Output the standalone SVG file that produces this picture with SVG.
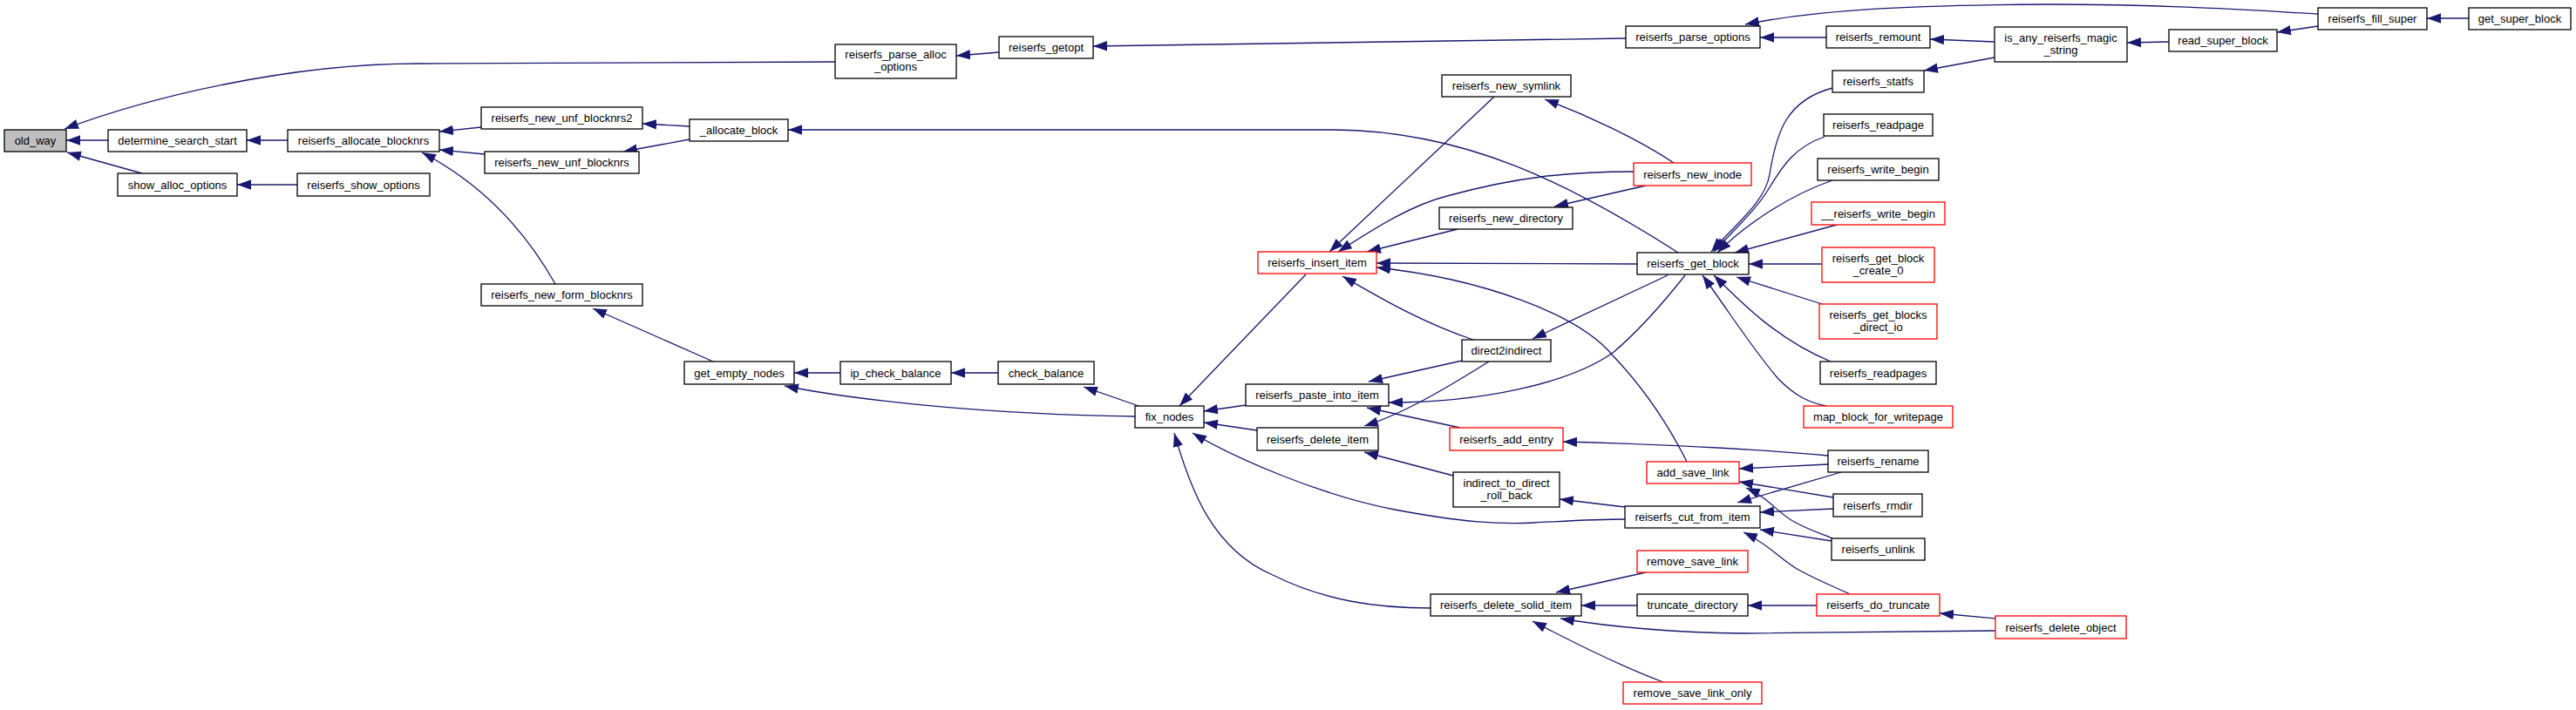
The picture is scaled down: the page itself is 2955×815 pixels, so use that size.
<svg xmlns="http://www.w3.org/2000/svg" width="2955" height="815" viewBox="0 0 2955 815">
<style>
.n rect{fill:#fff;stroke:#000;stroke-width:1.3}
.n.r rect{stroke:#f00}
.n.g rect{fill:#bfbfbf}
.n text{font-family:"Liberation Sans",Arial,sans-serif;font-size:13px;text-anchor:middle;fill:#000}
.e path{fill:none;stroke:#191970;stroke-width:1.3;marker-start:url(#a)}
</style>
<defs>
<marker id="a" markerUnits="userSpaceOnUse" markerWidth="16" markerHeight="12" refX="14" refY="5" orient="auto-start-reverse" viewBox="0 0 14 10"><path d="M0,0 L14,5 L0,10 z" fill="#191970"/></marker>
</defs>
<rect width="2955" height="815" fill="#fff"/>
<g id="edges" class="e">
<path d="M74,148 C170,112 330,73 480,73 L958,71"/>
<path d="M76,161 L124,161"/>
<path d="M77,175 L163,199"/>
<path d="M283,161 L330,161"/>
<path d="M272,212 L341,212"/>
<path d="M504,151 L552,146"/>
<path d="M504,172 L556,177"/>
<path d="M484,175 Q580,225 637,326"/>
<path d="M737,142 L791,145"/>
<path d="M715,174 L791,160"/>
<path d="M904,149 L1530,149 C1680,150 1800,210 1925,290"/>
<path d="M1097,64 L1146,60"/>
<path d="M1254,53 L1865,44"/>
<path d="M2019,43 L2095,43"/>
<path d="M2002,28 C2080,12 2180,6 2350,5 C2500,5 2600,13 2659,16"/>
<path d="M2214,45 L2288,48"/>
<path d="M2207,81 L2288,66"/>
<path d="M2440,49 L2488,48"/>
<path d="M2612,37 L2659,30"/>
<path d="M2784,21 L2832,21"/>
<path d="M680,354 L818,415"/>
<path d="M911,428 L964,428"/>
<path d="M900,443 C960,455 1100,475 1302,478"/>
<path d="M1091,428 L1145,428"/>
<path d="M1243,444 L1306,466"/>
<path d="M1353,466 L1498,315"/>
<path d="M1381,472 L1429,465"/>
<path d="M1381,485 L1442,494"/>
<path d="M1368,497 C1420,528 1520,570 1600,585 C1680,600 1720,602 1760,600 C1800,598 1830,596 1864,596"/>
<path d="M1347,497 C1365,560 1390,630 1460,660 C1520,690 1580,698 1641,698"/>
<path d="M1525,289 L1714,111"/>
<path d="M1535,289 C1580,260 1620,235 1660,225 C1740,203 1800,197 1874,197"/>
<path d="M1568,289 L1672,263"/>
<path d="M1579,302 L1878,303"/>
<path d="M1579,307 C1700,320 1810,360 1850,408 C1890,450 1915,490 1935,530"/>
<path d="M1540,317 C1580,340 1630,370 1690,390"/>
<path d="M1772,114 C1820,132 1880,160 1920,187"/>
<path d="M1783,237 L1888,213"/>
<path d="M1758,389 L1913,316"/>
<path d="M1593,462 C1700,462 1800,440 1850,405 C1880,380 1910,345 1933,316"/>
<path d="M1570,438 L1677,414"/>
<path d="M1568,468 L1675,491"/>
<path d="M1565,489 C1610,475 1660,445 1708,415"/>
<path d="M1565,519 L1667,546"/>
<path d="M1793,507 C1900,510 2000,514 2097,523"/>
<path d="M1789,573 L1864,582"/>
<path d="M1995,538 L2097,533"/>
<path d="M1995,553 L2103,571"/>
<path d="M2003,560 C2030,572 2040,590 2060,600 C2075,608 2090,613 2102,618"/>
<path d="M1993,577 L2112,542"/>
<path d="M2019,588 L2103,584"/>
<path d="M2019,608 L2101,621"/>
<path d="M2000,611 C2030,625 2045,645 2065,655 C2085,666 2105,674 2122,682"/>
<path d="M2005,695 L2084,695"/>
<path d="M2225,704 L2289,710"/>
<path d="M1790,710 C1850,720 1920,726 2000,727 L2289,724"/>
<path d="M1785,680 L1888,657"/>
<path d="M1814,695 L1878,695"/>
<path d="M1758,713 C1800,735 1860,765 1908,783"/>
<path d="M1963,289 C1990,258 2025,232 2030,200 C2038,150 2050,115 2102,101"/>
<path d="M1966,289 C1995,258 2015,240 2030,215 C2045,190 2060,168 2093,157"/>
<path d="M1970,290 C2000,260 2050,225 2102,207"/>
<path d="M1990,290 L2107,258"/>
<path d="M2006,303 L2090,303"/>
<path d="M1992,318 L2090,349"/>
<path d="M1966,316 C2000,350 2040,390 2100,415"/>
<path d="M1953,316 C1985,360 2010,400 2040,435 C2060,455 2075,462 2095,466"/>
</g>
<g id="old_way" class="n g"><rect x="5" y="149" width="71" height="25"/><text x="40.5" y="166">old_way</text></g>
<g id="determine_search_start" class="n"><rect x="124" y="149" width="159" height="25"/><text x="203.5" y="166">determine_search_start</text></g>
<g id="reiserfs_allocate_blocknrs" class="n"><rect x="330" y="149" width="174" height="25"/><text x="417" y="166">reiserfs_allocate_blocknrs</text></g>
<g id="show_alloc_options" class="n"><rect x="135" y="199" width="137" height="26"/><text x="203.5" y="217">show_alloc_options</text></g>
<g id="reiserfs_show_options" class="n"><rect x="341" y="199" width="152" height="26"/><text x="417" y="217">reiserfs_show_options</text></g>
<g id="reiserfs_parse_alloc_options" class="n"><rect x="958" y="51" width="139" height="39"/><text x="1027.5" y="67">reiserfs_parse_alloc</text><text x="1027.5" y="81">_options</text></g>
<g id="reiserfs_getopt" class="n"><rect x="1146" y="42" width="108" height="25"/><text x="1200" y="59">reiserfs_getopt</text></g>
<g id="reiserfs_new_unf_blocknrs2" class="n"><rect x="552" y="123" width="185" height="25"/><text x="644.5" y="140">reiserfs_new_unf_blocknrs2</text></g>
<g id="reiserfs_new_unf_blocknrs" class="n"><rect x="556" y="174" width="177" height="25"/><text x="644.5" y="191">reiserfs_new_unf_blocknrs</text></g>
<g id="_allocate_block" class="n"><rect x="791" y="137" width="113" height="25"/><text x="847.5" y="154">_allocate_block</text></g>
<g id="reiserfs_new_form_blocknrs" class="n"><rect x="552" y="326" width="185" height="25"/><text x="644.5" y="343">reiserfs_new_form_blocknrs</text></g>
<g id="get_empty_nodes" class="n"><rect x="785" y="415" width="126" height="26"/><text x="848" y="433">get_empty_nodes</text></g>
<g id="ip_check_balance" class="n"><rect x="964" y="415" width="127" height="26"/><text x="1027.5" y="433">ip_check_balance</text></g>
<g id="check_balance" class="n"><rect x="1145" y="415" width="110" height="26"/><text x="1200" y="433">check_balance</text></g>
<g id="fix_nodes" class="n"><rect x="1302" y="466" width="79" height="25"/><text x="1341.5" y="483">fix_nodes</text></g>
<g id="reiserfs_insert_item" class="n r"><rect x="1443" y="289" width="136" height="25"/><text x="1511" y="306">reiserfs_insert_item</text></g>
<g id="reiserfs_paste_into_item" class="n"><rect x="1429" y="441" width="164" height="25"/><text x="1511" y="458">reiserfs_paste_into_item</text></g>
<g id="reiserfs_delete_item" class="n"><rect x="1442" y="491" width="139" height="26"/><text x="1511.5" y="509">reiserfs_delete_item</text></g>
<g id="reiserfs_parse_options" class="n"><rect x="1865" y="30" width="154" height="25"/><text x="1942" y="47">reiserfs_parse_options</text></g>
<g id="reiserfs_new_symlink" class="n"><rect x="1654" y="86" width="148" height="25"/><text x="1728" y="103">reiserfs_new_symlink</text></g>
<g id="reiserfs_new_inode" class="n r"><rect x="1874" y="187" width="135" height="26"/><text x="1941.5" y="205">reiserfs_new_inode</text></g>
<g id="reiserfs_new_directory" class="n"><rect x="1651" y="238" width="153" height="25"/><text x="1727.5" y="255">reiserfs_new_directory</text></g>
<g id="reiserfs_get_block" class="n"><rect x="1878" y="290" width="128" height="25"/><text x="1942" y="307">reiserfs_get_block</text></g>
<g id="direct2indirect" class="n"><rect x="1677" y="390" width="102" height="25"/><text x="1728" y="407">direct2indirect</text></g>
<g id="reiserfs_add_entry" class="n r"><rect x="1663" y="491" width="130" height="26"/><text x="1728" y="509">reiserfs_add_entry</text></g>
<g id="indirect_to_direct_roll_back" class="n"><rect x="1667" y="542" width="122" height="40"/><text x="1728" y="559">indirect_to_direct</text><text x="1728" y="573">_roll_back</text></g>
<g id="add_save_link" class="n r"><rect x="1889" y="530" width="106" height="25"/><text x="1942" y="547">add_save_link</text></g>
<g id="reiserfs_cut_from_item" class="n"><rect x="1864" y="581" width="155" height="25"/><text x="1941.5" y="598">reiserfs_cut_from_item</text></g>
<g id="remove_save_link" class="n r"><rect x="1878" y="632" width="127" height="25"/><text x="1941.5" y="649">remove_save_link</text></g>
<g id="reiserfs_delete_solid_item" class="n"><rect x="1641" y="682" width="173" height="25"/><text x="1727.5" y="699">reiserfs_delete_solid_item</text></g>
<g id="truncate_directory" class="n"><rect x="1878" y="682" width="127" height="25"/><text x="1941.5" y="699">truncate_directory</text></g>
<g id="remove_save_link_only" class="n r"><rect x="1862" y="783" width="159" height="25"/><text x="1941.5" y="800">remove_save_link_only</text></g>
<g id="reiserfs_remount" class="n"><rect x="2095" y="30" width="119" height="25"/><text x="2154.5" y="47">reiserfs_remount</text></g>
<g id="is_any_reiserfs_magic_string" class="n"><rect x="2288" y="31" width="152" height="40"/><text x="2364" y="48">is_any_reiserfs_magic</text><text x="2364" y="62">_string</text></g>
<g id="reiserfs_statfs" class="n"><rect x="2102" y="81" width="105" height="25"/><text x="2154.5" y="98">reiserfs_statfs</text></g>
<g id="reiserfs_readpage" class="n"><rect x="2092" y="131" width="125" height="25"/><text x="2154.5" y="148">reiserfs_readpage</text></g>
<g id="reiserfs_write_begin" class="n"><rect x="2085" y="182" width="139" height="25"/><text x="2154.5" y="199">reiserfs_write_begin</text></g>
<g id="__reiserfs_write_begin" class="n r"><rect x="2078" y="232" width="153" height="26"/><text x="2154.5" y="250">__reiserfs_write_begin</text></g>
<g id="reiserfs_get_block_create_0" class="n r"><rect x="2090" y="284" width="129" height="40"/><text x="2154.5" y="301">reiserfs_get_block</text><text x="2154.5" y="315">_create_0</text></g>
<g id="reiserfs_get_blocks_direct_io" class="n r"><rect x="2087" y="349" width="135" height="40"/><text x="2154.5" y="366">reiserfs_get_blocks</text><text x="2154.5" y="380">_direct_io</text></g>
<g id="reiserfs_readpages" class="n"><rect x="2088" y="415" width="133" height="26"/><text x="2154.5" y="433">reiserfs_readpages</text></g>
<g id="map_block_for_writepage" class="n r"><rect x="2069" y="466" width="171" height="25"/><text x="2154.5" y="483">map_block_for_writepage</text></g>
<g id="reiserfs_rename" class="n"><rect x="2097" y="517" width="115" height="25"/><text x="2154.5" y="534">reiserfs_rename</text></g>
<g id="reiserfs_rmdir" class="n"><rect x="2103" y="567" width="102" height="26"/><text x="2154" y="585">reiserfs_rmdir</text></g>
<g id="reiserfs_unlink" class="n"><rect x="2101" y="618" width="107" height="25"/><text x="2154.5" y="635">reiserfs_unlink</text></g>
<g id="reiserfs_do_truncate" class="n r"><rect x="2084" y="682" width="141" height="25"/><text x="2154.5" y="699">reiserfs_do_truncate</text></g>
<g id="reiserfs_delete_object" class="n r"><rect x="2289" y="707" width="150" height="26"/><text x="2364" y="725">reiserfs_delete_object</text></g>
<g id="reiserfs_fill_super" class="n"><rect x="2659" y="9" width="125" height="25"/><text x="2721.5" y="26">reiserfs_fill_super</text></g>
<g id="get_super_block" class="n"><rect x="2832" y="9" width="117" height="25"/><text x="2890.5" y="26">get_super_block</text></g>
<g id="read_super_block" class="n"><rect x="2488" y="34" width="124" height="25"/><text x="2550" y="51">read_super_block</text></g>
</svg>
